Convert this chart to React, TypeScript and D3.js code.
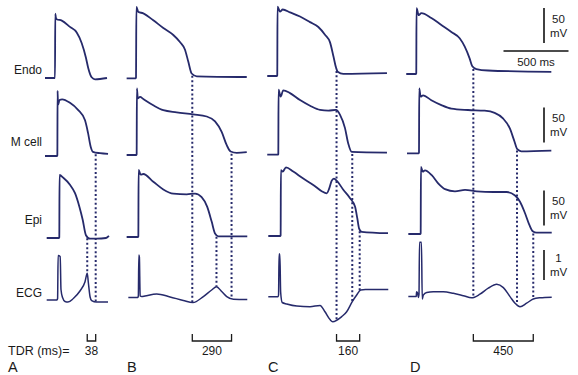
import React from 'react';
import * as d3 from 'd3';

// labels
const rowNames = ['Endo', 'M cell', 'Epi', 'ECG'];
const panelNames = ['A', 'B', 'C', 'D'];
const tdrValues = ['38', '290', '160', '450'];

// transmembrane potentials: [ms from panel origin, mV]
const endoA = [[-77,-85],[-2,-85],[0,-85],[2,7],[6,2],[13,-1],[52,-3],[115,-12],[167,-20],[205,-35],[238,-56],[256,-71],[282,-84],[308,-87],[400,-85]];
const mCellA = [[-77,-85],[16,-85],[18,-84],[20,8],[23,-12],[35,-5],[55,-4],[115,-9],[177,-19],[231,-34],[254,-52],[275,-72],[292,-79],[346,-81],[408,-82]];
const epiA = [[-64,-85],[31,-85],[33,-84],[35,5],[64,1],[115,-9],[154,-21],[187,-40],[213,-59],[238,-81],[269,-86],[321,-86],[392,-85],[415,-82]];
const endoB = [[-72,-87],[-2,-87],[0,-86],[3,15],[18,8],[56,6],[133,-4],[210,-15],[287,-25],[338,-35],[377,-46],[402,-63],[428,-80],[467,-84],[852,-85]];
const mCellB = [[-72,-85],[3,-85],[5,-84],[7,10],[14,-4],[31,-2],[56,-5],[133,-14],[210,-21],[313,-24],[441,-27],[544,-30],[608,-37],[659,-52],[698,-71],[728,-80],[775,-82],[852,-81]];
const epiB = [[-72,-85],[16,-85],[18,-84],[20,11],[36,4],[56,5],[133,-6],[210,-17],[287,-23],[390,-24],[454,-23],[505,-28],[548,-42],[582,-63],[608,-80],[633,-84],[856,-84]];
const endoC = [[-75,-85],[0,-85],[2,-84],[4,14],[23,7],[44,10],[100,6],[177,0],[254,-8],[318,-15],[369,-26],[408,-37],[433,-56],[454,-73],[467,-79],[510,-82],[846,-81]];
const mCellC = [[-75,-86],[8,-86],[10,-85],[12,7],[28,-3],[48,6],[100,2],[177,-8],[254,-16],[331,-22],[395,-23],[454,-22],[485,-29],[523,-48],[548,-70],[575,-82],[846,-83]];
const epiC = [[-67,-85],[26,-85],[28,-84],[30,9],[44,7],[69,13],[125,7],[202,-3],[279,-12],[344,-21],[382,-24],[402,-17],[421,-6],[438,-3],[464,-7],[510,-19],[562,-31],[600,-43],[618,-60],[631,-74],[652,-79],[854,-81]];
const endoD = [[-75,-85],[0,-85],[2,-84],[4,9],[21,-1],[41,2],[118,-5],[195,-15],[272,-25],[336,-34],[375,-46],[413,-63],[433,-74],[464,-78],[554,-80],[1041,-82]];
const mCellD = [[-69,-87],[21,-87],[23,-86],[25,6],[36,-6],[54,-4],[118,-11],[195,-18],[272,-23],[400,-25],[528,-26],[605,-29],[669,-37],[721,-51],[754,-68],[779,-81],[810,-84],[1041,-83]];
const epiD = [[-59,-85],[34,-85],[36,-84],[38,11],[52,4],[69,6],[121,-1],[172,-13],[223,-21],[300,-24],[377,-22],[467,-24],[595,-25],[698,-25],[762,-30],[800,-39],[838,-55],[872,-72],[898,-81],[928,-83],[1044,-83]];

// ECG: [ms, mV]
const ecgA = [[-64,0],[15,0],[20,0.05],[24,1.48],[40,1.45],[46,0.35],[58,0.08],[77,-0.05],[100,-0.07],[141,0.05],[192,0.3],[231,0.61],[248,0.89],[256,0.6],[270,0.1],[282,-0.02],[320,-0.07],[408,-0.07]];
const ecgB = [[-59,0.05],[14,0.05],[18,0.1],[22,1.47],[26,1.4],[32,0.1],[44,0.08],[69,0.1],[159,0.17],[262,0.07],[364,-0.05],[438,-0.12],[518,0.08],[582,0.3],[619,0.41],[659,0.25],[698,0.08],[749,-0.01],[856,-0.02]];
const ecgC = [[-67,0.04],[8,0.04],[12,0.1],[16,1.47],[22,1.47],[28,0.2],[40,-0.15],[75,-0.2],[152,-0.27],[254,-0.29],[331,-0.25],[369,-0.46],[408,-0.72],[428,-0.79],[498,-0.62],[536,-0.46],[579,-0.12],[613,0.1],[644,0.27],[680,0.28],[856,0.28]];
const ecgD = [[-59,-0.02],[2,-0.02],[4,0.14],[12,0.1],[18,-0.05],[23,0.05],[27,1.79],[42,1.79],[48,-0.1],[56,0.03],[82,0.12],[133,0.14],[210,0.14],[287,0.09],[364,0.01],[428,-0.06],[492,0.06],[556,0.26],[621,0.39],[672,0.28],[723,-0.02],[762,-0.24],[800,-0.36],[851,-0.24],[902,-0.1],[954,-0.06],[1044,-0.04]];

// end of repolarization markers: time (ms) and row index they drop from
const marksA = [[248, 2], [313, 1]];
const marksB = [[433, 0], [619, 2], [735, 1]];
const marksC = [[458, 0], [579, 1], [636, 2]];
const marksD = [[441, 0], [777, 1], [902, 2]];

const traces = [
  [endoA, endoB, endoC, endoD],
  [mCellA, mCellB, mCellC, mCellD],
  [epiA, epiB, epiC, epiD],
  [ecgA, ecgB, ecgC, ecgD],
];
const marks = [marksA, marksB, marksC, marksD];

// layout
const W = 578, H = 375;
const panelX0 = [55, 136, 277, 416];
const panelDy = [2, 1, 0, -2];
const panelLetterX = [8, 127, 268, 410];
const rowRestY = [76, 154, 236, 298];
const rowLabelY = [70, 142, 220, 293];
const PX_PER_MS = 0.13, PX_PER_MV = 0.7, PX_PER_MV_ECG = 30;
const ink = '#262a6b';
const font = '"Liberation Sans", Arial, Helvetica, sans-serif';

const xScale = (p: number) => d3.scaleLinear().domain([0, 1000]).range([panelX0[p], panelX0[p] + 1000 * PX_PER_MS]);
const yScale = (r: number, p: number) => {
  const base = rowRestY[r] + panelDy[p];
  return r === 3
    ? d3.scaleLinear().domain([0, 1]).range([base, base - PX_PER_MV_ECG])
    : d3.scaleLinear().domain([-85, -35]).range([base, base - 50 * PX_PER_MV]);
};

const valueAt = (data: number[][], t: number) => {
  const i = d3.bisector((d: number[]) => d[0]).left(data, t);
  if (i <= 0) return data[0][1];
  if (i >= data.length) return data[data.length - 1][1];
  const [t0, v0] = data[i - 1], [t1, v1] = data[i];
  return v0 + ((t - t0) / (t1 - t0)) * (v1 - v0);
};

const scaleBars = [
  { bottom: 43, mv: 50, label: '50', scale: PX_PER_MV },
  { bottom: 142.5, mv: 50, label: '50', scale: PX_PER_MV },
  { bottom: 225.5, mv: 50, label: '50', scale: PX_PER_MV },
  { bottom: 280, mv: 1, label: '1', scale: PX_PER_MV_ECG },
];

export default function App() {
  const paths: React.ReactNode[] = [];
  traces.forEach((row, r) => {
    row.forEach((data, p) => {
      const x = xScale(p), y = yScale(r, p);
      const line = d3.line<number[]>().x(d => x(d[0])).y(d => y(d[1])).curve(d3.curveMonotoneX);
      paths.push(
        <path key={`t${r}${p}`} d={line(data) || ''} fill="none" stroke={ink}
          strokeWidth={r === 3 ? 1.5 : 1.8} strokeLinejoin="round" />
      );
    });
  });

  const dots: React.ReactNode[] = [];
  const brackets: React.ReactNode[] = [];
  marks.forEach((list, p) => {
    const x = xScale(p);
    list.forEach(([t, r], i) => {
      const y1 = yScale(r, p)(valueAt(traces[r][p], t));
      const y2 = yScale(3, p)(valueAt(traces[3][p], t));
      dots.push(
        <line key={`d${p}${i}`} x1={x(t)} x2={x(t)} y1={y1 + 2} y2={y2} stroke={ink}
          strokeWidth={2} strokeDasharray="2,2.4" />
      );
    });
    const ts = list.map(d => d[0]);
    const xa = x(d3.min(ts) as number), xb = x(d3.max(ts) as number);
    brackets.push(
      <g key={`b${p}`}>
        <path d={`M${xa},334V341H${xb}V334`} fill="none" stroke="#1a1a1a" strokeWidth={1.3} />
        <text x={(xa + xb) / 2} y={355} textAnchor="middle" fontSize={12} fill="#1a1a1a">{tdrValues[p]}</text>
      </g>
    );
  });

  const barX = 544;
  const msBarX0 = 503.5, msBarY = 51;

  return (
    <svg width={W} height={H} style={{ position: 'absolute', left: 0, top: 0, background: '#fff' }}
      fontFamily={font}>
      {paths}
      {dots}
      {brackets}
      {rowNames.map((n, r) => (
        <text key={n} x={42} y={rowLabelY[r] + 4.3} textAnchor="end" fontSize={12} fill="#1a1a1a">{n}</text>
      ))}
      {panelNames.map((n, p) => (
        <text key={n} x={panelLetterX[p]} y={372} fontSize={14.5} fill="#1a1a1a">{n}</text>
      ))}
      <text x={8} y={355} fontSize={12.5} fill="#1a1a1a">TDR (ms)=</text>
      {scaleBars.map((b, i) => {
        const top = b.bottom - b.mv * b.scale;
        const mid = (top + b.bottom) / 2;
        return (
          <g key={`s${i}`}>
            <line x1={barX} x2={barX} y1={top} y2={b.bottom} stroke="#111" strokeWidth={1.6} />
            <text x={558.5} y={mid - 7 + 4} textAnchor="middle" fontSize={11.5} fill="#1a1a1a">{b.label}</text>
            <text x={558.5} y={mid + 7 + 4} textAnchor="middle" fontSize={11.5} fill="#1a1a1a">mV</text>
          </g>
        );
      })}
      <line x1={msBarX0} x2={msBarX0 + 500 * PX_PER_MS} y1={msBarY} y2={msBarY} stroke="#111" strokeWidth={1.6} />
      <text x={msBarX0 + 250 * PX_PER_MS} y={62 + 4} textAnchor="middle" fontSize={11.5} fill="#1a1a1a">500 ms</text>
    </svg>
  );
}
